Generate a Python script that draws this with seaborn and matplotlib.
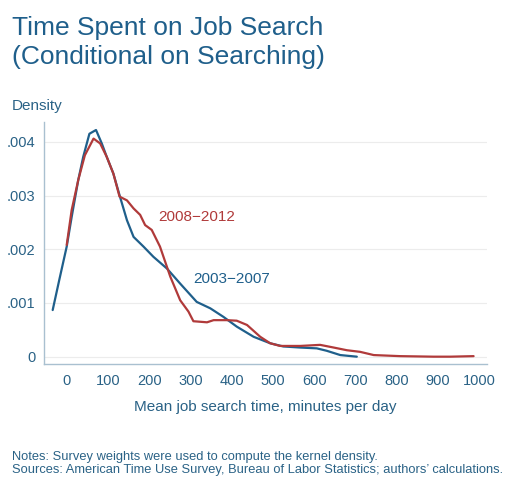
import numpy as np
import pandas as pd
import seaborn as sns
import matplotlib.pyplot as plt

# %% data
minutes_0307 = [-34, -18, 0, 12, 28, 40, 55, 71, 85, 97, 113, 129, 146, 162, 186, 210,
                243, 275, 315, 348, 380, 412, 453, 493, 525, 566, 606, 630, 663, 703]
density_0307 = [0.000868, 0.00143, 0.00205, 0.0026, 0.00329, 0.00372, 0.00415, 0.00422,
                0.00397, 0.00372, 0.00341, 0.00298, 0.00254, 0.00223, 0.00205, 0.00186,
                0.00164, 0.00136, 0.00102, 0.0009, 0.00074, 0.00056, 0.00037, 0.00025,
                0.00019, 0.00017, 0.000155, 0.00011, 0.00003, 0.0]

minutes_0812 = [0, 12, 28, 44, 65, 81, 97, 113, 128, 146, 162, 178, 190, 206, 226, 251,
                275, 295, 307, 340, 356, 388, 412, 437, 469, 493, 517, 566, 614, 647,
                679, 711, 744, 808, 889, 930, 986]
density_0812 = [0.00208, 0.00273, 0.00329, 0.00375, 0.00406, 0.00397, 0.00372, 0.00341,
                0.00298, 0.00291, 0.00276, 0.00264, 0.00245, 0.00236, 0.00205, 0.00149,
                0.00105, 0.00084, 0.00066, 0.00064, 0.00068, 0.00068, 0.00067, 0.00059,
                0.00037, 0.00025, 0.0002, 0.0002, 0.00022, 0.00017, 0.00012, 0.00009,
                0.00003, 0.00001, 0.0, 0.0, 0.00001]

x_ticks = list(range(0, 1001, 100))
y_ticks = [0, 0.001, 0.002, 0.003, 0.004]
y_tick_labels = ["0", ".001", ".002", ".003", ".004"]

df = pd.concat([
    pd.DataFrame({"minutes": minutes_0307, "density": density_0307, "period": "2003\u22122007"}),
    pd.DataFrame({"minutes": minutes_0812, "density": density_0812, "period": "2008\u22122012"}),
])

# %% style
sns.set_style("white")
plt.rcParams["font.family"] = ["Liberation Sans", "DejaVu Sans"]

blue = "#1f5f8b"
red = "#b03a3a"
text_col = "#2a6286"
spine_col = "#a9c0d0"

fig = plt.figure(figsize=(5.24, 4.87), dpi=100)
ax = fig.add_axes([0.084, 0.2526, 0.845, 0.497])

sns.lineplot(data=df, x="minutes", y="density", hue="period",
             palette={"2003\u22122007": blue, "2008\u22122012": red},
             linewidth=1.6, legend=False, ax=ax, sort=False)

ax.set_xlim(-55, 1018)
ax.set_ylim(-0.000136, 0.00437)
ax.set_xticks(x_ticks)
ax.set_yticks(y_ticks)
ax.set_yticklabels(y_tick_labels)
ax.grid(axis="y", color="#ececec", linewidth=0.8)
ax.set_axisbelow(True)

for s in ["top", "right"]:
    ax.spines[s].set_visible(False)
for s in ["left", "bottom"]:
    ax.spines[s].set_color(spine_col)
    ax.spines[s].set_linewidth(1.0)

ax.tick_params(axis="x", direction="out", length=4, width=0.8, color=spine_col,
               labelcolor=text_col, labelsize=10.5, pad=3)
ax.tick_params(axis="y", length=0, labelcolor=text_col, labelsize=10.5, pad=6)

ax.set_xlabel("Mean job search time, minutes per day", color=text_col, fontsize=11, labelpad=9)
ax.set_ylabel("")

ax.text(223, 0.0026, "2008\u22122012", color=red, fontsize=11, va="center")
ax.text(306, 0.00145, "2003\u22122007", color=blue, fontsize=11, va="center")

fig.text(0.023, 0.783, "Density", color=text_col, fontsize=11, va="center")
fig.text(0.023, 0.858, "Time Spent on Job Search\n(Conditional on Searching)",
         color=blue, fontsize=19, va="bottom", linespacing=1.25)
fig.text(0.023, 0.062, "Notes: Survey weights were used to compute the kernel density.",
         color=text_col, fontsize=9.3, va="center")
fig.text(0.023, 0.035, "Sources: American Time Use Survey, Bureau of Labor Statistics; authors\u2019 calculations.",
         color=text_col, fontsize=9.3, va="center")

fig.savefig("out.png", dpi=100)
